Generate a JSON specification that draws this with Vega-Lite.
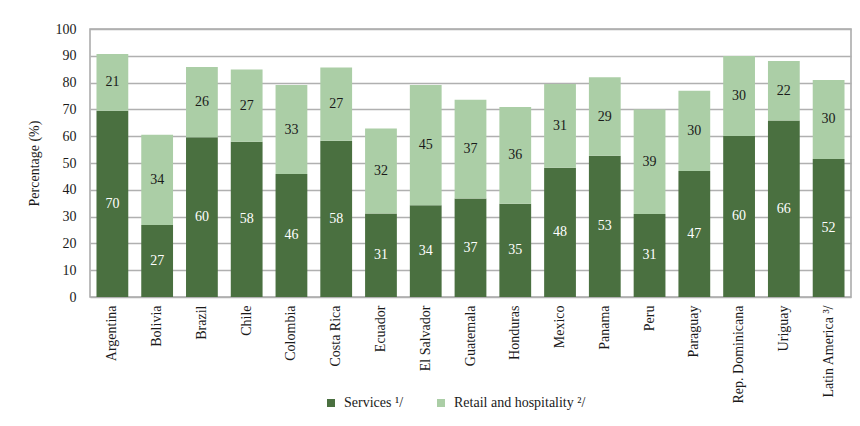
{
  "$schema": "https://vega.github.io/schema/vega-lite/v6.json",
  "autosize": {"type": "none"},
  "width": 761,
  "height": 268,
  "padding": {"left": 90, "top": 29, "right": 9, "bottom": 129},
  "config": {
    "font": "Liberation Serif",
    "view": {"stroke": "#a6a6a6", "strokeWidth": 1.5}
  },
  "data": {
    "values": [
      {"c": "Argentina", "s": "Services ¹/", "v": 69.5, "r": 1},
      {"c": "Argentina", "s": "Retail and hospitality ²/", "v": 21.2, "r": 2},
      {"c": "Bolivia", "s": "Services ¹/", "v": 26.9, "r": 1},
      {"c": "Bolivia", "s": "Retail and hospitality ²/", "v": 33.6, "r": 2},
      {"c": "Brazil", "s": "Services ¹/", "v": 59.6, "r": 1},
      {"c": "Brazil", "s": "Retail and hospitality ²/", "v": 26.2, "r": 2},
      {"c": "Chile", "s": "Services ¹/", "v": 57.9, "r": 1},
      {"c": "Chile", "s": "Retail and hospitality ²/", "v": 27.0, "r": 2},
      {"c": "Colombia", "s": "Services ¹/", "v": 45.9, "r": 1},
      {"c": "Colombia", "s": "Retail and hospitality ²/", "v": 33.2, "r": 2},
      {"c": "Costa Rica", "s": "Services ¹/", "v": 58.3, "r": 1},
      {"c": "Costa Rica", "s": "Retail and hospitality ²/", "v": 27.3, "r": 2},
      {"c": "Ecuador", "s": "Services ¹/", "v": 31.2, "r": 1},
      {"c": "Ecuador", "s": "Retail and hospitality ²/", "v": 31.7, "r": 2},
      {"c": "El Salvador", "s": "Services ¹/", "v": 34.2, "r": 1},
      {"c": "El Salvador", "s": "Retail and hospitality ²/", "v": 44.9, "r": 2},
      {"c": "Guatemala", "s": "Services ¹/", "v": 36.8, "r": 1},
      {"c": "Guatemala", "s": "Retail and hospitality ²/", "v": 36.8, "r": 2},
      {"c": "Honduras", "s": "Services ¹/", "v": 34.8, "r": 1},
      {"c": "Honduras", "s": "Retail and hospitality ²/", "v": 36.1, "r": 2},
      {"c": "Mexico", "s": "Services ¹/", "v": 48.2, "r": 1},
      {"c": "Mexico", "s": "Retail and hospitality ²/", "v": 31.3, "r": 2},
      {"c": "Panama", "s": "Services ¹/", "v": 52.7, "r": 1},
      {"c": "Panama", "s": "Retail and hospitality ²/", "v": 29.3, "r": 2},
      {"c": "Peru", "s": "Services ¹/", "v": 31.0, "r": 1},
      {"c": "Peru", "s": "Retail and hospitality ²/", "v": 39.0, "r": 2},
      {"c": "Paraguay", "s": "Services ¹/", "v": 47.0, "r": 1},
      {"c": "Paraguay", "s": "Retail and hospitality ²/", "v": 30.0, "r": 2},
      {"c": "Rep. Dominicana", "s": "Services ¹/", "v": 60.1, "r": 1},
      {"c": "Rep. Dominicana", "s": "Retail and hospitality ²/", "v": 29.8, "r": 2},
      {"c": "Uriguay", "s": "Services ¹/", "v": 65.9, "r": 1},
      {"c": "Uriguay", "s": "Retail and hospitality ²/", "v": 22.2, "r": 2},
      {"c": "Latin America ³/", "s": "Services ¹/", "v": 51.5, "r": 1},
      {"c": "Latin America ³/", "s": "Retail and hospitality ²/", "v": 29.5, "r": 2}
    ]
  },
  "encoding": {
    "x": {
      "field": "c",
      "type": "nominal",
      "sort": null,
      "scale": {"paddingInner": 0.29, "paddingOuter": 0.145},
      "axis": {
        "title": null,
        "labelAngle": -90,
        "labelFontSize": 14,
        "labelColor": "#1a1a1a",
        "labelPadding": 8,
        "tickSize": 0,
        "tickOpacity": 0,
        "domainOpacity": 0
      }
    }
  },
  "layer": [
    {
      "mark": {"type": "bar"},
      "encoding": {
        "y": {
          "field": "v",
          "type": "quantitative",
          "stack": "zero",
          "scale": {"domain": [0, 100]},
          "axis": {
            "title": "Percentage (%)",
            "values": [0, 10, 20, 30, 40, 50, 60, 70, 80, 90, 100],
            "grid": true,
            "gridColor": "#b0b0b0",
            "gridWidth": 1.5,
            "gridOpacity": 1,
            "zindex": 0,
            "tickSize": 0,
            "tickOpacity": 0,
            "domainOpacity": 0,
            "labelFontSize": 14,
            "labelColor": "#1a1a1a",
            "labelPadding": 14,
            "labelOverlap": false,
            "titleFontSize": 14,
            "titleFontWeight": "normal",
            "titleColor": "#1a1a1a",
            "titlePadding": 14
          }
        },
        "color": {
          "field": "s",
          "type": "nominal",
          "scale": {
            "domain": ["Services ¹/", "Retail and hospitality ²/"],
            "range": ["#4a7040", "#abcea6"]
          },
          "legend": {
            "title": null,
            "orient": "none",
            "direction": "horizontal",
            "legendX": 234,
            "legendY": 367,
            "symbolType": "square",
            "symbolSize": 64,
            "symbolStrokeWidth": 0,
            "symbolOpacity": 1,
            "labelFontSize": 14,
            "labelColor": "#1a1a1a",
            "columnPadding": 30,
            "labelOffset": 6
          }
        },
        "order": {"field": "r", "type": "quantitative"}
      }
    },
    {
      "transform": [
        {"stack": "v", "groupby": ["c"], "sort": [{"field": "r"}], "as": ["y0", "y1"]},
        {"fold": ["y0", "y1"], "as": ["k", "pos"]}
      ],
      "mark": {"type": "text", "fontSize": 14, "baseline": "middle"},
      "encoding": {
        "y": {
          "aggregate": "mean",
          "field": "pos",
          "type": "quantitative",
          "scale": {"domain": [0, 100]},
          "axis": null
        },
        "text": {"field": "v", "type": "quantitative", "format": ".0f"},
        "color": {
          "field": "s",
          "type": "nominal",
          "scale": {
            "domain": ["Services ¹/", "Retail and hospitality ²/"],
            "range": ["#ffffff", "#1a1a1a"]
          },
          "legend": null
        }
      }
    }
  ],
  "resolve": {"scale": {"color": "independent"}, "axis": {"y": "independent"}}
}
